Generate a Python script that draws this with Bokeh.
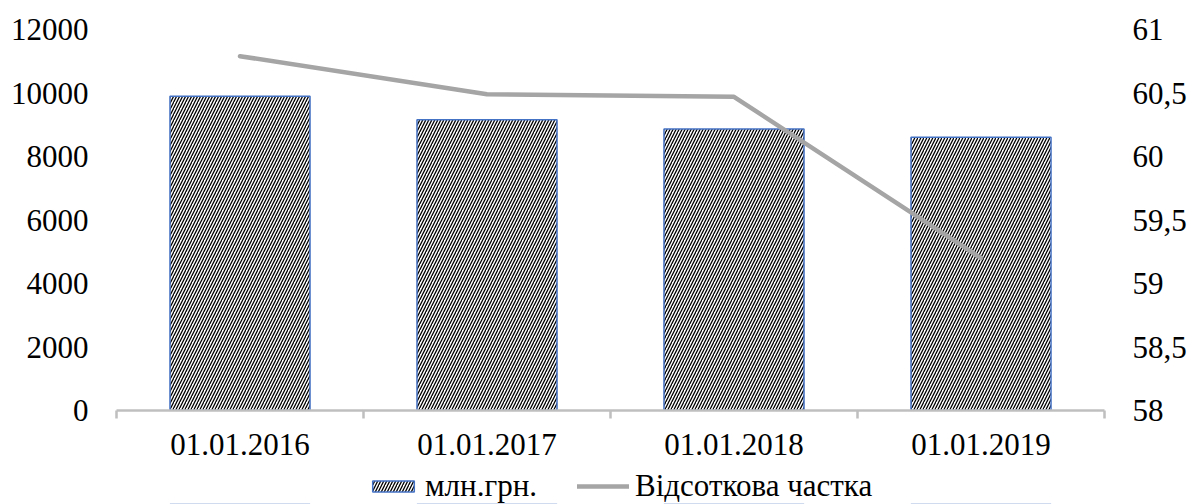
from bokeh.plotting import figure
from bokeh.layouts import column
from bokeh.models import (Range1d, LinearAxis, FixedTicker, Legend, LegendItem,
                          ColumnDataSource)
from bokeh.embed import file_html
from bokeh.resources import INLINE

# ---- data ----
dates = ["01.01.2016", "01.01.2017", "01.01.2018", "01.01.2019"]
mln_grn = [9900, 9160, 8870, 8610]
pct_share = [60.79, 60.49, 60.47, 59.20]
left_ticks = [0, 2000, 4000, 6000, 8000, 10000, 12000]
right_ticks = [58, 58.5, 59, 59.5, 60, 60.5, 61]
right_labels = ["58", "58,5", "59", "59,5", "60", "60,5", "61"]
bar_name = "млн.грн."
line_name = "Відсоткова частка"

FONT = "Liberation Serif"
FS = "31px"
W = 1190

BAR_STYLE = dict(fill_color="white", line_color="#4472C4", line_width=1.5,
                 hatch_pattern="/", hatch_color="black", hatch_weight=1.3,
                 hatch_scale=6)
LINE_STYLE = dict(line_color="#A5A5A5", line_width=4.5, line_cap="round",
                  line_join="round")

pos = [i + 0.5 for i in range(len(dates))]
src = ColumnDataSource(dict(x=pos, mln=mln_grn, pct=pct_share, d=dates))

p = figure(width=W, height=470, output_backend="svg", toolbar_location=None,
           x_range=Range1d(0, len(dates)), y_range=Range1d(0, 12000),
           min_border_left=116, min_border_right=86, min_border_top=29,
           min_border_bottom=60)
p.outline_line_color = None
p.xgrid.visible = False
p.ygrid.visible = False
p.background_fill_color = "white"
p.border_fill_color = "white"

p.extra_y_ranges = {"pct": Range1d(58, 61)}

bars = p.vbar(x="x", top="mln", width=0.567, source=src, **BAR_STYLE)
ln = p.line(x="x", y="pct", source=src, y_range_name="pct", **LINE_STYLE)

# x axis: labels at category centres, small ticks at boundaries
xa = p.xaxis[0]
xa.ticker = FixedTicker(ticks=pos, minor_ticks=list(range(len(dates) + 1)))
xa.major_label_overrides = {v: d for v, d in zip(pos, dates)}
xa.major_tick_line_color = None
xa.major_tick_out = 0
xa.major_tick_in = 0
xa.minor_tick_out = 8
xa.minor_tick_in = 0
xa.minor_tick_line_color = "#BFBFBF"
xa.minor_tick_line_width = 2.5
xa.axis_line_color = "#BFBFBF"
xa.axis_line_width = 2.5
xa.major_label_standoff = 15
xa.major_label_text_font = FONT
xa.major_label_text_font_size = FS
xa.major_label_text_color = "black"

ya = p.yaxis[0]
ya.ticker = FixedTicker(ticks=left_ticks)
ya.axis_line_color = None
ya.major_tick_line_color = None
ya.minor_tick_line_color = None
ya.major_tick_out = 0
ya.major_tick_in = 0
ya.major_label_standoff = 28
ya.major_label_text_font = FONT
ya.major_label_text_font_size = FS
ya.major_label_text_color = "black"

ra = LinearAxis(y_range_name="pct", ticker=FixedTicker(ticks=right_ticks))
ra.major_label_overrides = {v: s for v, s in zip(right_ticks, right_labels)}
ra.axis_line_color = None
ra.major_tick_line_color = None
ra.minor_tick_line_color = None
ra.major_tick_out = 0
ra.major_tick_in = 0
ra.major_label_standoff = 28
ra.major_label_text_font = FONT
ra.major_label_text_font_size = FS
ra.major_label_text_color = "black"
p.add_layout(ra, "right")

# legend strip underneath (its frame is aligned with the main frame by the column)
lg = figure(width=W, height=34, output_backend="svg", toolbar_location=None,
            x_range=Range1d(0, len(dates)), y_range=Range1d(20000, 30000),
            x_axis_location=None, y_axis_location=None,
            min_border_left=0, min_border_right=0, min_border_top=0,
            min_border_bottom=0)
lg.outline_line_color = None
lg.xgrid.visible = False
lg.ygrid.visible = False
lg.background_fill_color = "white"
lg.border_fill_color = "white"
# same series, lying below this strip's visible range: they only feed the swatches
lb = lg.vbar(x="x", top="mln", width=0.567, source=src, **BAR_STYLE)
ll = lg.line(x="x", y="mln", source=src, **LINE_STYLE)
legend = Legend(items=[LegendItem(label=bar_name, renderers=[lb]),
                       LegendItem(label=line_name, renderers=[ll])],
                orientation="horizontal", location=(251, 0),
                glyph_width=52, glyph_height=14, label_standoff=6,
                spacing=40, padding=0, margin=0, label_height=30,
                border_line_color=None, background_fill_alpha=0,
                label_text_font=FONT, label_text_font_size=FS,
                label_text_color="black")
lg.add_layout(legend, "center")

layout = column(p, lg, spacing=0)
open("out.html", "w").write(file_html(layout, INLINE))
